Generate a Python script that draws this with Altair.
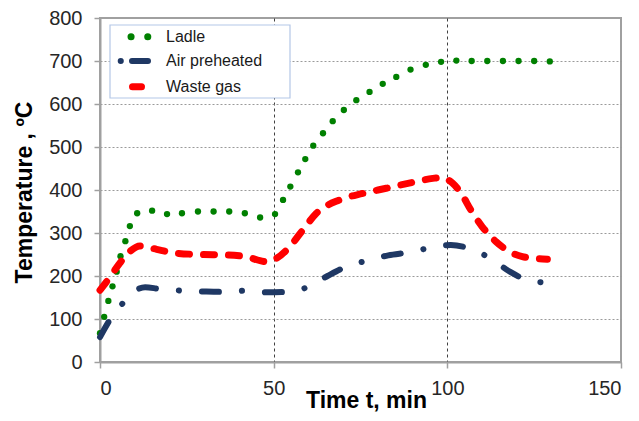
import altair as alt
import pandas as pd

# ---- data ----
series_names = ["Ladle", "Air preheated", "Waste gas"]
series_colors = ["#008000", "#1F3864", "#FF0000"]

ladle_t = [0, 1.2, 2.4, 3.6, 4.8, 5.9, 7.3, 8.6, 10.7, 15, 19.3, 23.6, 28.2, 32.7, 37.2,
           41.7, 46.1, 50.4, 52.7, 54.8, 57, 59.1, 61.4, 64.2, 67, 70.2, 73.8, 77.6, 81.4,
           85.3, 89.4, 93.8, 98.2, 102.6, 107, 111.5, 116, 120.5, 125, 129.5]
ladle_T = [67, 105, 142, 176, 210, 246, 281, 316, 346, 352, 344, 346, 350, 350, 350,
           346, 336, 344, 377, 408, 441, 472, 503, 532, 560, 586, 609, 628, 647,
           663, 680, 691, 698, 701, 700, 700, 700, 700, 700, 699]

air_t = [0, 3, 6.7, 10, 13, 17, 23.5, 30, 36, 42, 48, 54, 60, 65.5, 71, 77, 83, 89,
         95.3, 101, 107, 112.8, 118, 123, 129.5]
air_T = [58, 100, 138, 165, 174, 170, 166, 164, 163, 166, 162, 163, 175, 200, 222, 236,
         248, 255, 266, 272, 262, 239, 210, 191, 184]

gas_t = [0, 2.9, 5.7, 8.6, 11.5, 16.3, 21, 28.7, 36.4, 42, 48, 50.8, 54.6, 58.4, 62.3,
         69, 75.7, 82.4, 89, 95.8, 98.2, 101.5, 104, 106.8, 110, 114, 117.8, 121.6,
         125.5, 128.8]
gas_T = [167, 198, 230, 257, 270, 262, 254, 250, 249, 245, 233, 241, 268, 307, 346,
         377, 392, 404, 416, 427, 429, 416, 392, 353, 315, 280, 257, 245, 241, 239]

x_ticks = [0, 50, 100, 150]
y_ticks = [0, 100, 200, 300, 400, 500, 600, 700, 800]

ladle = pd.DataFrame({"t": ladle_t, "T": ladle_T})
air = pd.DataFrame({"t": air_t, "T": air_T})
gas = pd.DataFrame({"t": gas_t, "T": gas_T})

FONT = "Liberation Sans"

x_enc = alt.X(
    "t:Q",
    scale=alt.Scale(domain=[0, 150], nice=False, zero=False),
    axis=alt.Axis(
        values=x_ticks, title="Time t, min", grid=True,
        gridColor="#404040", gridDash=[3, 3], gridWidth=1,
        gridOpacity={"condition": {"test": "datum.value == 0 || datum.value == 150", "value": 0}, "value": 1},
        labelFontSize=20, labelFont=FONT, labelColor="#262626", labelPadding=10,
        titleFontSize=23, titleFont=FONT, titleFontWeight="bold", titleColor="#000000",
        titleBaseline="alphabetic", titleY=45, titleX=266, titleAlign="center",
        domainColor="#A0A0A0", domainWidth=2,
        tickColor="#A0A0A0", tickWidth=1.5, tickSize=6,
    ),
)
y_enc = alt.Y(
    "T:Q",
    scale=alt.Scale(domain=[0, 800], nice=False),
    axis=alt.Axis(
        values=y_ticks, title="Temperature , ºC", grid=True,
        gridColor="#9A9A9A", gridDash=[2, 2], gridWidth=1,
        gridOpacity={"condition": {"test": "datum.value == 0 || datum.value == 800", "value": 0}, "value": 1},
        labelFontSize=20, labelFont=FONT, labelColor="#262626", labelPadding=12,
        titleFontSize=23, titleFont=FONT, titleFontWeight="bold", titleColor="#000000",
        titleBaseline="middle", titleX=-76, titleY=174, titleAlign="center", titleAngle=270,
        domainColor="#A0A0A0", domainWidth=2,
        tickColor="#A0A0A0", tickWidth=1.5, tickSize=6,
    ),
)

ladle_layer = alt.Chart(ladle).mark_circle(size=40, opacity=1, color=series_colors[0]).encode(
    x=x_enc, y=y_enc)

air_layer = alt.Chart(air).mark_line(
    interpolate="monotone", color=series_colors[1], strokeWidth=6,
    strokeCap="round", strokeDash=[17, 23, 0.1, 23]).encode(x=x_enc, y=y_enc)

gas_layer = alt.Chart(gas).mark_line(
    interpolate="monotone", color=series_colors[2], strokeWidth=7,
    strokeCap="round", strokeDash=[11, 14]).encode(x=x_enc, y=y_enc)

# ---- legend box ----
one = pd.DataFrame({"k": [0]})
box = alt.Chart(one).mark_rect(fill="white", stroke="#B4C7E7", strokeWidth=1.2).encode(
    x=alt.value(10), x2=alt.value(190), y=alt.value(7), y2=alt.value(80))

sym_ladle = alt.Chart(one).mark_rule(
    color=series_colors[0], strokeWidth=7, strokeCap="round", strokeDash=[0.1, 16.6]).encode(
    x=alt.value(31), x2=alt.value(47.8), y=alt.value(18.7))
sym_air = alt.Chart(one).mark_rule(
    color=series_colors[1], strokeWidth=6, strokeCap="round", strokeDash=[0.1, 11.2, 16, 100]).encode(
    x=alt.value(20.7), x2=alt.value(48), y=alt.value(43))
sym_gas = alt.Chart(one).mark_rule(
    color=series_colors[2], strokeWidth=7, strokeCap="round").encode(
    x=alt.value(32.5), x2=alt.value(41.5), y=alt.value(68.7))

texts = []
for name, yy in zip(series_names, [18.7, 43, 68.7]):
    texts.append(alt.Chart(one).mark_text(
        align="left", baseline="middle", fontSize=16, font=FONT, color="#1a1a1a").encode(
        x=alt.value(66), y=alt.value(yy), text=alt.value(name)))

chart = alt.layer(
    ladle_layer, air_layer, gas_layer, box, sym_ladle, sym_air, sym_gas, *texts
).properties(
    width=521, height=344,
    autosize=alt.AutoSizeParams(type="none"),
    padding={"left": 92, "top": 10, "right": 10, "bottom": 51},
).configure_view(stroke="#A0A0A0", strokeWidth=2)

chart.save("out.html", embed_options={"renderer": "svg", "actions": False})
